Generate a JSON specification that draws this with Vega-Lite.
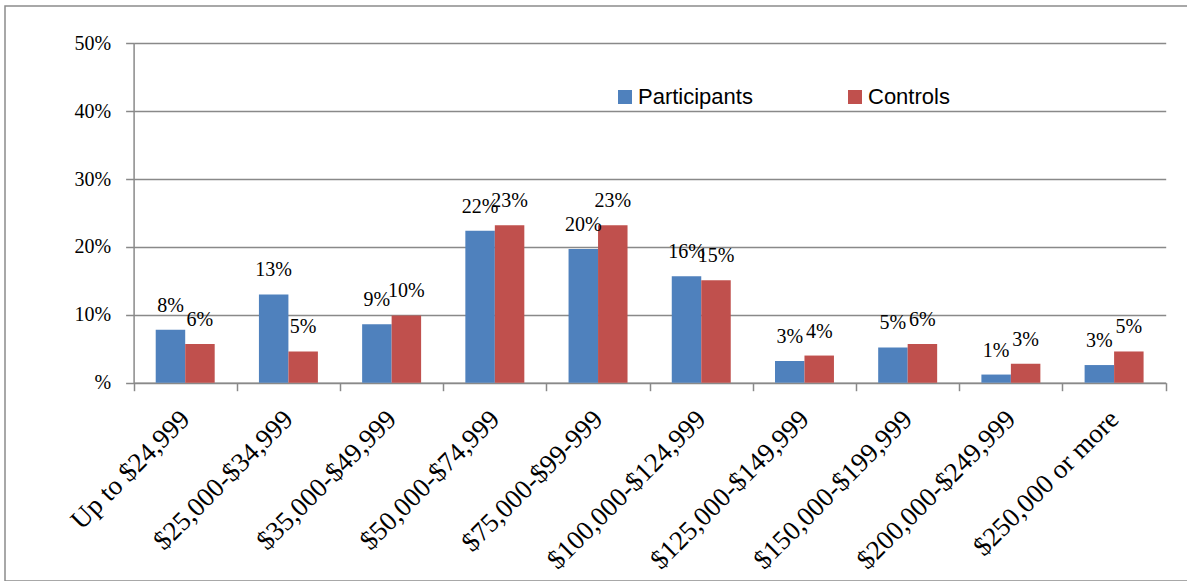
{
  "$schema": "https://vega.github.io/schema/vega-lite/v6.json",
  "width": 1200,
  "height": 575,
  "autosize": {"type": "none"},
  "padding": {"left": 5, "top": 6, "right": 0, "bottom": 0},
  "config": {
    "view": {"stroke": "#8c8c8c", "strokeWidth": 1.5},
    "font": "Liberation Serif"
  },
  "data": {
    "values": [
      {"income": "Up to $24,999", "group": "Participants", "share": 0.078},
      {"income": "Up to $24,999", "group": "Controls", "share": 0.057},
      {"income": "$25,000-$34,999", "group": "Participants", "share": 0.130},
      {"income": "$25,000-$34,999", "group": "Controls", "share": 0.046},
      {"income": "$35,000-$49,999", "group": "Participants", "share": 0.086},
      {"income": "$35,000-$49,999", "group": "Controls", "share": 0.099},
      {"income": "$50,000-$74,999", "group": "Participants", "share": 0.224},
      {"income": "$50,000-$74,999", "group": "Controls", "share": 0.232},
      {"income": "$75,000-$99-999", "group": "Participants", "share": 0.197},
      {"income": "$75,000-$99-999", "group": "Controls", "share": 0.232},
      {"income": "$100,000-$124,999", "group": "Participants", "share": 0.157},
      {"income": "$100,000-$124,999", "group": "Controls", "share": 0.151},
      {"income": "$125,000-$149,999", "group": "Participants", "share": 0.032},
      {"income": "$125,000-$149,999", "group": "Controls", "share": 0.040},
      {"income": "$150,000-$199,999", "group": "Participants", "share": 0.052},
      {"income": "$150,000-$199,999", "group": "Controls", "share": 0.057},
      {"income": "$200,000-$249,999", "group": "Participants", "share": 0.012},
      {"income": "$200,000-$249,999", "group": "Controls", "share": 0.028},
      {"income": "$250,000 or more", "group": "Participants", "share": 0.026},
      {"income": "$250,000 or more", "group": "Controls", "share": 0.046}
    ]
  },
  "encoding": {
    "x": {
      "field": "income",
      "type": "nominal",
      "sort": null,
      "scale": {"range": [128.6, 1160.7], "paddingInner": 0, "paddingOuter": 0},
      "axis": {
        "title": null,
        "offset": -198.3,
        "labelAngle": -45,
        "labelAlign": "right",
        "labelBaseline": "middle",
        "labelFont": "Liberation Serif",
        "labelFontSize": 27,
        "labelColor": "#000000",
        "labelPadding": 24,
        "labelLimit": 0,
        "tickBand": "extent",
        "tickSize": 8,
        "tickColor": "#898989",
        "tickWidth": 1.5,
        "domainColor": "#898989",
        "domainWidth": 1.5,
        "grid": false
      }
    },
    "xOffset": {
      "field": "group",
      "type": "nominal",
      "sort": ["Participants", "Controls"],
      "scale": {"paddingOuter": 0.75, "paddingInner": 0}
    },
    "y": {
      "field": "share",
      "type": "quantitative",
      "scale": {"domain": [0, 0.5], "range": [376.7, 37.3], "nice": false, "zero": true},
      "axis": {
        "title": null,
        "offset": -128.6,
        "values": [0, 0.1, 0.2, 0.3, 0.4, 0.5],
        "labelExpr": "datum.value === 0 ? '%' : format(datum.value, '.0%')",
        "labelFont": "Liberation Serif",
        "labelFontSize": 20,
        "labelColor": "#000000",
        "labelPadding": 15,
        "tickSize": 8,
        "tickColor": "#898989",
        "tickWidth": 1.5,
        "domainColor": "#898989",
        "domainWidth": 1.5,
        "grid": true,
        "gridColor": "#898989",
        "gridWidth": 1.5
      }
    }
  },
  "layer": [
    {
      "mark": {"type": "bar"},
      "encoding": {
        "color": {
          "field": "group",
          "type": "nominal",
          "scale": {"domain": ["Participants", "Controls"], "range": ["#4F81BD", "#C0504D"]},
          "legend": {
            "orient": "none",
            "legendX": 609,
            "legendY": 80,
            "direction": "horizontal",
            "title": null,
            "padding": 0,
            "symbolType": "square",
            "symbolSize": 196,
            "symbolStrokeWidth": 0,
            "symbolOpacity": 1,
            "labelFont": "Liberation Sans",
            "labelFontSize": 22,
            "labelColor": "#000000",
            "labelOffset": 2,
            "columnPadding": 91
          }
        }
      }
    },
    {
      "mark": {"type": "text", "baseline": "alphabetic", "dy": -18, "fontSize": 20, "color": "#000000"},
      "encoding": {
        "text": {"field": "share", "type": "quantitative", "format": ".0%"}
      }
    }
  ]
}
